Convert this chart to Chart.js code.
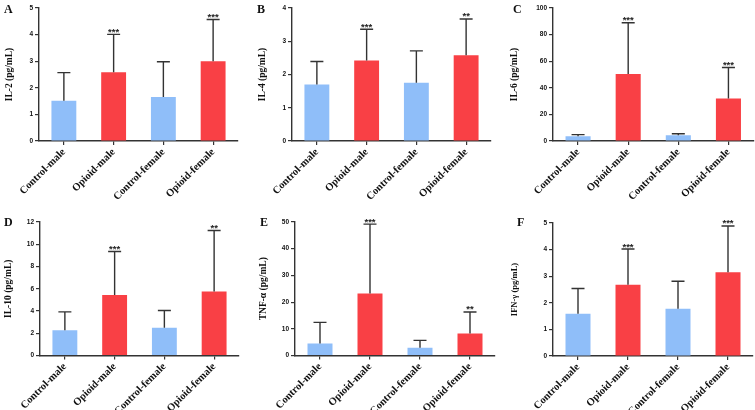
<!DOCTYPE html>
<html>
<head>
<meta charset="utf-8">
<script src="https://cdn.jsdelivr.net/npm/chart.js@4.4.1/dist/chart.umd.min.js"></script>
<style>
  body { margin: 0; background: #fff; width: 755px; height: 410px; overflow: hidden; position: relative; }
  .panel { position: absolute; }
  .letter { position: absolute; font: bold 12px "Liberation Serif", serif; line-height: 12px; color: #111; }
</style>
</head>
<body>
<script>
// groups on the x axis
const categories = ['Control-male', 'Opioid-male', 'Control-female', 'Opioid-female'];

// means and SD (upper error bar)
const il2Mean = [1.51, 2.58, 1.65, 3.0];
const il2Sd = [1.06, 1.43, 1.33, 1.57];
const il4Mean = [1.70, 2.42, 1.75, 2.58];
const il4Sd = [0.69, 0.94, 0.96, 1.09];
const il6Mean = [3.5, 50.3, 4.3, 31.9];
const il6Sd = [1.3, 38.6, 1.2, 23.4];
const il10Mean = [2.26, 5.43, 2.5, 5.76];
const il10Sd = [1.66, 3.92, 1.54, 5.48];
const tnfMean = [4.5, 23.2, 2.9, 8.2];
const tnfSd = [7.9, 26.0, 2.75, 8.1];
const ifnMean = [1.59, 2.68, 1.78, 3.15];
const ifnSd = [0.95, 1.34, 1.03, 1.74];

// significance marks
const il2Stars = ['', '***', '', '***'];
const il4Stars = ['', '***', '', '**'];
const il6Stars = ['', '***', '', '***'];
const il10Stars = ['', '***', '', '**'];
const tnfStars = ['', '***', '', '**'];
const ifnStars = ['', '***', '', '***'];

// y axis ranges
const yMax = [5, 4, 100, 12, 50, 5];
const yStep = [1, 1, 20, 2, 10, 1];

const barColors = ['#8fbef9', '#f94045', '#8fbef9', '#f94045'];

const panels = [
  { letter: 'A', title: 'IL-2 (pg/mL)', mean: il2Mean, sd: il2Sd, stars: il2Stars, titleSize: 9.5,
    x: 0, y: 0, w: 250, h: 205, left: 39, right: 238, top: 8, bottom: 141, titlePad: 4, lx: 4, ly: 3 },
  { letter: 'B', title: 'IL-4 (pg/mL)', mean: il4Mean, sd: il4Sd, stars: il4Stars, titleSize: 9.5,
    x: 250, y: 0, w: 250, h: 205, left: 42, right: 241, top: 8, bottom: 141, titlePad: 6.5, lx: 257, ly: 3 },
  { letter: 'C', title: 'IL-6 (pg/mL)', mean: il6Mean, sd: il6Sd, stars: il6Stars, titleSize: 9.5,
    x: 500, y: 0, w: 255, h: 205, left: 53, right: 253.5, top: 8, bottom: 141, titlePad: 9, lx: 513, ly: 3 },
  { letter: 'D', title: 'IL-10 (pg/mL)', mean: il10Mean, sd: il10Sd, stars: il10Stars, titleSize: 9.5,
    x: 0, y: 205, w: 250, h: 205, left: 40, right: 239, top: 17, bottom: 150.5, titlePad: 2.5, lx: 4, ly: 216 },
  { letter: 'E', title: 'TNF-α (pg/mL)', mean: tnfMean, sd: tnfSd, stars: tnfStars, titleSize: 9.5,
    x: 250, y: 205, w: 250, h: 205, left: 45, right: 245, top: 17, bottom: 150.5, titlePad: 7.5, lx: 260, ly: 216 },
  { letter: 'F', title: 'IFN-γ (pg/mL)', mean: ifnMean, sd: ifnSd, stars: ifnStars, titleSize: 8.5,
    x: 500, y: 205, w: 255, h: 205, left: 53, right: 253, top: 18, bottom: 151, titlePad: 9.5, lx: 517, ly: 216 }
];

const errorBars = {
  id: 'errorBars',
  afterDatasetsDraw(chart, args, opts) {
    const { ctx } = chart;
    const yScale = chart.scales.y;
    const meta = chart.getDatasetMeta(0);
    const data = chart.data.datasets[0].data;
    ctx.save();
    ctx.strokeStyle = '#333';
    ctx.lineWidth = 1.4;
    ctx.fillStyle = '#222';
    ctx.font = 'bold 9.5px "Liberation Sans", Arial, sans-serif';
    ctx.textAlign = 'center';
    ctx.textBaseline = 'alphabetic';
    meta.data.forEach((bar, i) => {
      const top = yScale.getPixelForValue(data[i] + opts.sd[i]);
      ctx.beginPath();
      ctx.moveTo(bar.x, bar.y);
      ctx.lineTo(bar.x, top);
      ctx.moveTo(bar.x - 6.5, top);
      ctx.lineTo(bar.x + 6.5, top);
      ctx.stroke();
      if (opts.stars[i]) ctx.fillText(opts.stars[i], bar.x, top + 0.5);
    });
    ctx.restore();
  }
};

panels.forEach((p, k) => {
  const div = document.createElement('div');
  div.className = 'panel';
  div.style.left = p.x + 'px';
  div.style.top = p.y + 'px';
  div.style.width = p.w + 'px';
  div.style.height = p.h + 'px';
  const canvas = document.createElement('canvas');
  canvas.width = p.w;
  canvas.height = p.h;
  div.appendChild(canvas);
  document.body.appendChild(div);

  const letter = document.createElement('div');
  letter.className = 'letter';
  letter.textContent = p.letter;
  letter.style.left = p.lx + 'px';
  letter.style.top = p.ly + 'px';
  document.body.appendChild(letter);

  new Chart(canvas, {
    type: 'bar',
    data: {
      labels: categories,
      datasets: [{
        data: p.mean,
        backgroundColor: barColors,
        borderWidth: 0,
        barPercentage: 0.5,
        categoryPercentage: 1
      }]
    },
    options: {
      responsive: false,
      animation: false,
      devicePixelRatio: 1,
      layout: { padding: { left: 0, top: p.top, right: p.w - p.right, bottom: 0 } },
      plugins: {
        legend: { display: false },
        tooltip: { enabled: false },
        errorBars: { sd: p.sd, stars: p.stars }
      },
      scales: {
        x: {
          grid: { offset: false, drawOnChartArea: false, drawTicks: true, tickLength: 4, color: '#333', lineWidth: 1.2 },
          border: { display: true, color: '#333', width: 1.4 },
          ticks: {
            autoSkip: false, minRotation: 45, maxRotation: 45, padding: 1, color: '#111',
            font: { family: '"Liberation Serif", serif', size: 10.5, weight: 'bold' }
          },
          afterFit(scale) { scale.height = p.h - p.bottom; }
        },
        y: {
          min: 0,
          max: yMax[k],
          grid: { drawOnChartArea: false, drawTicks: true, tickLength: 4, color: '#333', lineWidth: 1.2 },
          border: { display: true, color: '#333', width: 1.4 },
          ticks: {
            stepSize: yStep[k], padding: 2, color: '#111',
            font: { family: '"Liberation Sans", Arial, sans-serif', size: 6.5, weight: 'bold' }
          },
          title: {
            display: true, text: p.title, color: '#111',
            padding: { top: p.titlePad, bottom: 0 },
            font: { family: '"Liberation Serif", serif', size: p.titleSize, weight: 'bold' }
          },
          afterFit(scale) { scale.width = p.left; }
        }
      }
    },
    plugins: [errorBars]
  });
});
</script>
</body>
</html>
